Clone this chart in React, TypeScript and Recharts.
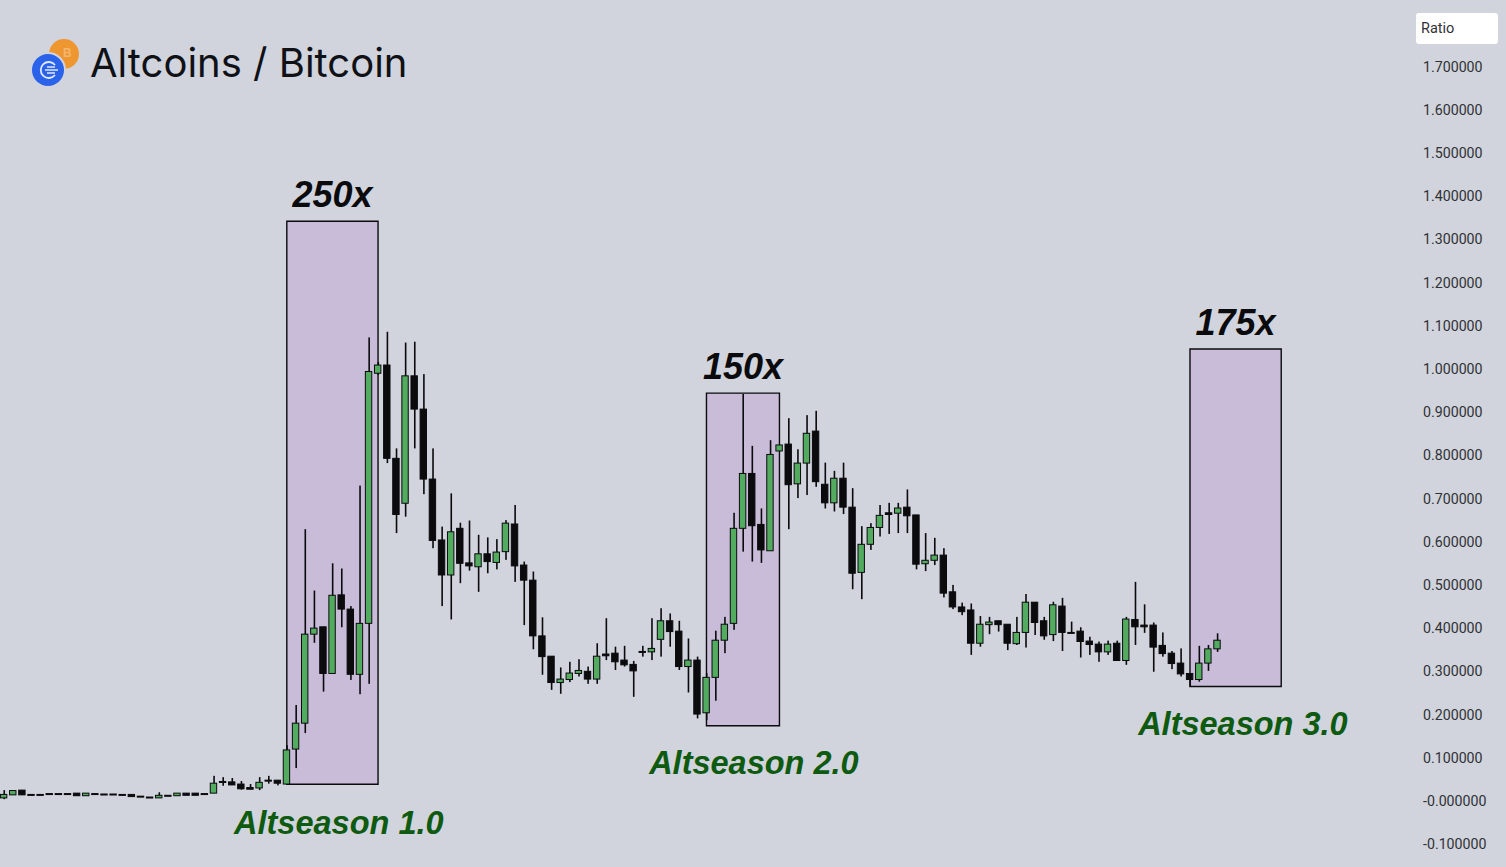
import { ComposedChart, Bar, XAxis, YAxis, ReferenceArea, ReferenceDot } from 'recharts';

const opens = [
  0.006, 0.013, 0.024, 0.014, 0.014, 0.016, 0.016, 0.016, 0.017, 0.011,
  0.016, 0.015, 0.015, 0.014, 0.014, 0.010, 0.008, 0.006, 0.012, 0.011,
  0.017, 0.017, 0.016, 0.017, 0.044, 0.043, 0.038, 0.030, 0.029, 0.047,
  0.047, 0.038, 0.119, 0.179, 0.385, 0.402, 0.294, 0.476, 0.443, 0.292,
  0.410, 0.989, 1.008, 0.792, 0.688, 0.983, 0.906, 0.744, 0.603, 0.522,
  0.630, 0.550, 0.541, 0.571, 0.551, 0.576, 0.640, 0.545, 0.510, 0.381,
  0.334, 0.273, 0.280, 0.294, 0.299, 0.281, 0.339, 0.341, 0.325, 0.315,
  0.345, 0.344, 0.373, 0.416, 0.392, 0.310, 0.325, 0.203, 0.285, 0.371,
  0.410, 0.630, 0.757, 0.639, 0.578, 0.809, 0.825, 0.733, 0.781, 0.855,
  0.732, 0.689, 0.746, 0.679, 0.528, 0.593, 0.632, 0.666, 0.665, 0.679,
  0.661, 0.548, 0.556, 0.568, 0.483, 0.448, 0.441, 0.364, 0.407, 0.416,
  0.408, 0.363, 0.389, 0.459, 0.416, 0.384, 0.450, 0.389, 0.392, 0.369,
  0.362, 0.344, 0.364, 0.324, 0.419, 0.406, 0.406, 0.359, 0.341, 0.318,
  0.294, 0.280, 0.318, 0.351,
];

const closes = [
  0.014, 0.023, 0.013, 0.014, 0.014, 0.016, 0.016, 0.016, 0.011, 0.017,
  0.016, 0.015, 0.015, 0.014, 0.009, 0.010, 0.008, 0.012, 0.012, 0.017,
  0.012, 0.012, 0.016, 0.040, 0.044, 0.036, 0.027, 0.026, 0.042, 0.047,
  0.040, 0.117, 0.179, 0.385, 0.399, 0.294, 0.475, 0.443, 0.292, 0.410,
  0.993, 1.008, 0.792, 0.662, 0.983, 0.906, 0.744, 0.602, 0.522, 0.622,
  0.549, 0.543, 0.571, 0.553, 0.575, 0.642, 0.543, 0.510, 0.381, 0.333,
  0.273, 0.281, 0.295, 0.301, 0.281, 0.334, 0.335, 0.321, 0.314, 0.300,
  0.345, 0.352, 0.416, 0.391, 0.310, 0.325, 0.200, 0.285, 0.371, 0.408,
  0.630, 0.757, 0.636, 0.580, 0.801, 0.823, 0.731, 0.781, 0.850, 0.738,
  0.689, 0.746, 0.679, 0.526, 0.593, 0.632, 0.660, 0.662, 0.677, 0.659,
  0.547, 0.556, 0.568, 0.480, 0.448, 0.437, 0.364, 0.408, 0.413, 0.407,
  0.364, 0.389, 0.459, 0.412, 0.381, 0.453, 0.389, 0.389, 0.368, 0.361,
  0.344, 0.362, 0.324, 0.420, 0.402, 0.402, 0.355, 0.340, 0.317, 0.293,
  0.280, 0.318, 0.351, 0.371,
];

const highs = [
  0.024, 0.023, 0.024, 0.014, 0.014, 0.016, 0.016, 0.016, 0.017, 0.017,
  0.016, 0.015, 0.015, 0.014, 0.014, 0.010, 0.008, 0.019, 0.012, 0.017,
  0.017, 0.017, 0.016, 0.057, 0.054, 0.052, 0.045, 0.038, 0.054, 0.057,
  0.047, 0.128, 0.221, 0.628, 0.486, 0.402, 0.549, 0.537, 0.450, 0.729,
  1.072, 1.015, 1.085, 0.815, 1.060, 1.062, 0.987, 0.815, 0.634, 0.711,
  0.643, 0.648, 0.615, 0.609, 0.605, 0.649, 0.684, 0.553, 0.530, 0.424,
  0.334, 0.308, 0.321, 0.327, 0.310, 0.364, 0.422, 0.356, 0.358, 0.323,
  0.358, 0.422, 0.445, 0.433, 0.416, 0.375, 0.333, 0.295, 0.393, 0.425,
  0.666, 0.941, 0.821, 0.676, 0.834, 0.823, 0.885, 0.813, 0.892, 0.902,
  0.782, 0.763, 0.782, 0.723, 0.635, 0.642, 0.684, 0.689, 0.689, 0.720,
  0.661, 0.619, 0.608, 0.584, 0.499, 0.458, 0.456, 0.427, 0.425, 0.416,
  0.408, 0.425, 0.478, 0.459, 0.425, 0.460, 0.469, 0.414, 0.401, 0.379,
  0.368, 0.370, 0.370, 0.425, 0.506, 0.454, 0.412, 0.389, 0.346, 0.352,
  0.294, 0.358, 0.360, 0.387,
];

const lows = [
  0.003, 0.013, 0.013, 0.014, 0.014, 0.016, 0.016, 0.016, 0.011, 0.011,
  0.016, 0.015, 0.015, 0.014, 0.009, 0.010, 0.008, 0.006, 0.012, 0.011,
  0.012, 0.012, 0.016, 0.017, 0.034, 0.036, 0.025, 0.026, 0.024, 0.039,
  0.035, 0.038, 0.075, 0.156, 0.365, 0.252, 0.294, 0.401, 0.279, 0.246,
  0.270, 0.985, 0.781, 0.619, 0.657, 0.815, 0.709, 0.584, 0.450, 0.419,
  0.503, 0.532, 0.483, 0.526, 0.535, 0.557, 0.506, 0.406, 0.350, 0.291,
  0.256, 0.247, 0.274, 0.287, 0.270, 0.270, 0.325, 0.302, 0.310, 0.240,
  0.333, 0.325, 0.333, 0.356, 0.302, 0.250, 0.190, 0.186, 0.231, 0.341,
  0.395, 0.576, 0.553, 0.550, 0.578, 0.809, 0.628, 0.700, 0.707, 0.726,
  0.676, 0.669, 0.663, 0.489, 0.466, 0.580, 0.611, 0.617, 0.619, 0.619,
  0.535, 0.531, 0.545, 0.470, 0.443, 0.429, 0.337, 0.356, 0.385, 0.391,
  0.348, 0.360, 0.354, 0.383, 0.372, 0.369, 0.346, 0.387, 0.331, 0.337,
  0.321, 0.337, 0.324, 0.314, 0.360, 0.388, 0.298, 0.333, 0.304, 0.287,
  0.263, 0.275, 0.300, 0.344,
];

const yTicks = [-0.1, 0, 0.1, 0.2, 0.3, 0.4, 0.5, 0.6, 0.7, 0.8, 0.9, 1.0, 1.1, 1.2, 1.3, 1.4, 1.5, 1.6, 1.7];

// altseason windows, in candle index and ratio
const seasons = [
  { from: 31, to: 41, bottom: 0.0375, top: 1.341, gain: '250x', name: 'Altseason 1.0', nameX: 36.7, nameY: -0.05 },
  { from: 77, to: 85, bottom: 0.173, top: 0.943, gain: '150x', name: 'Altseason 2.0', nameX: 82.2, nameY: 0.0885 },
  { from: 130, to: 140, bottom: 0.264, top: 1.045, gain: '175x', name: 'Altseason 3.0', nameX: 135.8, nameY: 0.178 },
];

const candles = opens.map((open, i) => ({
  i,
  open,
  close: closes[i],
  high: highs[i],
  low: lows[i],
  up: closes[i] >= open,
}));

const BG = '#d1d4dc';
const GREEN = '#52ab5e';
const INK = '#0b0b0e';

const WickShape = (props: any) => (
  <rect x={props.x} y={props.y} width={props.width} height={Math.max(props.height, 0)} fill={INK} />
);

const BodyShape = (props: any) => (
  <rect
    x={props.x}
    y={props.y}
    width={props.width}
    height={Math.max(props.height, 1)}
    fill={props.payload.up ? GREEN : INK}
    stroke={INK}
    strokeWidth={1}
  />
);

function Logo() {
  return (
    <svg width={60} height={50} style={{ position: 'absolute', left: 28, top: 38 }}>
      <circle cx={36} cy={16} r={15} fill="#ee962f" />
      <text x={35} y={19} fontFamily="Liberation Sans" fontWeight="bold" fontSize={12} fill="#f4b56f">B</text>
      <circle cx={20} cy={32} r={18} fill={BG} />
      <circle cx={20} cy={32} r={16} fill="#2a62ea" />
      <path d="M27 27 A8 8 0 1 0 27 37" fill="none" stroke="#dfe8ff" strokeWidth={1.8} />
      <path d="M17 32 H30 M19 29 H27 M19 35 H27" stroke="#dfe8ff" strokeWidth={1.5} />
    </svg>
  );
}

export default function App() {
  const labelFont = '"Liberation Sans", Arial, sans-serif';
  return (
    <div style={{ position: 'absolute', left: 0, top: 0, width: 1506, height: 867, background: BG, overflow: 'hidden' }}>
      <ComposedChart
        width={1506}
        height={867}
        data={candles}
        margin={{ top: 0, right: 0, bottom: 0, left: 0 }}
      >
        <XAxis xAxisId="wick" dataKey="i" type="number" domain={[-0.4385, 153.02]} hide allowDataOverflow />
        <XAxis xAxisId="body" dataKey="i" type="number" domain={[-0.4385, 153.02]} hide allowDataOverflow />
        <YAxis
          orientation="right"
          width={106}
          type="number"
          domain={[-0.154, 1.853]}
          ticks={yTicks}
          interval={0}
          allowDataOverflow
          axisLine={false}
          tickLine={false}
          tickMargin={17}
          tick={{ fill: '#2f3136', fontSize: 14.2, fontFamily: 'Roboto, sans-serif', dy: 0.5 }}
          tickFormatter={(v: number) => (Math.abs(v) < 1e-9 ? '-0.000000' : v.toFixed(6))}
        />
        {seasons.map((s) => (
          <ReferenceArea
            key={s.name}
            xAxisId="body"
            x1={s.from}
            x2={s.to}
            y1={s.bottom}
            y2={s.top}
            fill="#c9bcd9"
            fillOpacity={1}
            stroke="#0b0b0e"
            strokeWidth={1.4}
            label={{
              value: s.gain,
              position: 'top',
              offset: 14,
              fill: '#0b0b0e',
              fontSize: 36,
              fontWeight: 700,
              fontStyle: 'italic',
              fontFamily: labelFont,
            }}
          />
        ))}
        <Bar
          xAxisId="wick"
          dataKey={(d: any) => [d.low, d.high]}
          barSize={1.6}
          shape={WickShape}
          isAnimationActive={false}
        />
        <Bar
          xAxisId="body"
          dataKey={(d: any) => [Math.min(d.open, d.close), Math.max(d.open, d.close)]}
          barSize={6.4}
          shape={BodyShape}
          isAnimationActive={false}
        />
        {seasons.map((s) => (
          <ReferenceDot
            key={s.name + '-name'}
            xAxisId="body"
            x={s.nameX}
            y={s.nameY}
            r={0}
            fill="none"
            stroke="none"
            label={{
              value: s.name,
              position: 'center',
              fill: '#0e5a10',
              fontSize: 32.5,
              fontWeight: 700,
              fontStyle: 'italic',
              fontFamily: labelFont,
            }}
          />
        ))}
      </ComposedChart>
      <Logo />
      <div
        style={{
          position: 'absolute',
          left: 90,
          top: 38,
          fontFamily: 'Inter, sans-serif',
          fontSize: 40,
          lineHeight: '50px',
          color: '#0f1117',
          whiteSpace: 'nowrap',
        }}
      >
        Altcoins / Bitcoin
      </div>
      <div
        style={{
          position: 'absolute',
          left: 1416,
          top: 13,
          width: 82,
          height: 31,
          background: '#ffffff',
          borderRadius: 3,
          fontFamily: 'Roboto, sans-serif',
          fontSize: 14.5,
          lineHeight: '31px',
          paddingLeft: 5,
          boxSizing: 'border-box',
          color: '#2f3136',
        }}
      >
        Ratio
      </div>
    </div>
  );
}
